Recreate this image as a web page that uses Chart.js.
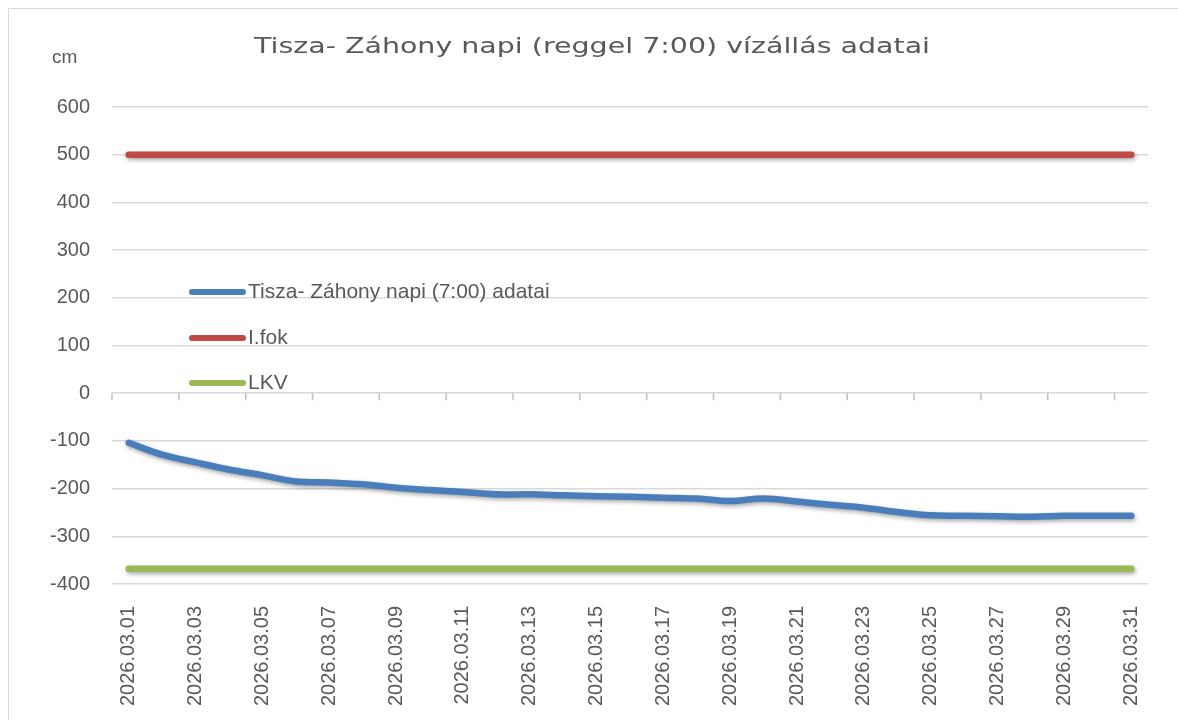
<!DOCTYPE html>
<html>
<head>
<meta charset="utf-8">
<title>Tisza- Záhony napi vízállás</title>
<script src="https://cdn.jsdelivr.net/npm/chart.js@4.4.1/dist/chart.umd.min.js"></script>
<style>
  html, body { margin: 0; padding: 0; background: #fff; }
  #wrap { position: relative; width: 1178px; height: 720px; }
</style>
</head>
<body>
<div id="wrap"><canvas id="chart"></canvas></div>
<script>
// chart data
const chartTitle = 'Tisza- Záhony napi (reggel 7:00) vízállás adatai';
const unitLabel = 'cm';

const dates = [
  '2026.03.01', '2026.03.02', '2026.03.03', '2026.03.04', '2026.03.05', '2026.03.06',
  '2026.03.07', '2026.03.08', '2026.03.09', '2026.03.10', '2026.03.11', '2026.03.12',
  '2026.03.13', '2026.03.14', '2026.03.15', '2026.03.16', '2026.03.17', '2026.03.18',
  '2026.03.19', '2026.03.20', '2026.03.21', '2026.03.22', '2026.03.23', '2026.03.24',
  '2026.03.25', '2026.03.26', '2026.03.27', '2026.03.28', '2026.03.29', '2026.03.30',
  '2026.03.31'
];

// napi vízállás (cm)
const vizallas = [
  -104, -129, -145, -160, -172, -185, -187, -191, -198, -203, -207,
  -212, -212, -214, -216, -217, -219, -221, -226, -221, -227,
  -234, -240, -249, -256, -257, -258, -259, -257, -257, -257
];

// I. fokú készültség
const iFok = [
  500, 500, 500, 500, 500, 500, 500, 500, 500, 500, 500,
  500, 500, 500, 500, 500, 500, 500, 500, 500, 500,
  500, 500, 500, 500, 500, 500, 500, 500, 500, 500
];

// legkisebb vízállás
const lkv = [
  -368, -368, -368, -368, -368, -368, -368, -368, -368, -368, -368,
  -368, -368, -368, -368, -368, -368, -368, -368, -368, -368,
  -368, -368, -368, -368, -368, -368, -368, -368, -368, -368
];

const yMin = -400;
const yMax = 600;
const yStep = 100;

const textColor = '#595959';
const gridColor = '#d9d9d9';

// white background + light frame on top/left
const framePlugin = {
  id: 'frame',
  beforeDraw(chart) {
    const ctx = chart.ctx;
    ctx.save();
    ctx.fillStyle = '#fff';
    ctx.fillRect(0, 0, chart.width, chart.height);
    ctx.strokeStyle = gridColor;
    ctx.lineWidth = 1;
    ctx.beginPath();
    ctx.moveTo(8.5, chart.height);
    ctx.lineTo(8.5, 8.5);
    ctx.lineTo(chart.width, 8.5);
    ctx.stroke();
    ctx.restore();
  }
};

// tick marks hanging under the 0 line (every 2nd category boundary) + shadow for lines
const lineStylePlugin = {
  id: 'lineStyle',
  beforeDatasetsDraw(chart) {
    const ctx = chart.ctx;
    const x = chart.scales.x;
    const y0 = chart.scales.y.getPixelForValue(0);
    ctx.save();
    ctx.strokeStyle = '#bfbfbf';
    ctx.lineWidth = 1.5;
    ctx.beginPath();
    for (let i = 0; i < dates.length; i += 2) {
      const px = i === 0 ? chart.chartArea.left : (x.getPixelForValue(i - 1) + x.getPixelForValue(i)) / 2;
      ctx.moveTo(px, y0);
      ctx.lineTo(px, y0 + 7);
    }
    ctx.stroke();
    ctx.restore();

    ctx.save();
    ctx.shadowColor = 'rgba(0, 0, 0, 0.35)';
    ctx.shadowBlur = 4;
    ctx.shadowOffsetX = 1;
    ctx.shadowOffsetY = 2;
  },
  afterDatasetsDraw(chart) {
    chart.ctx.restore();
  }
};

// title, unit label and the legend inside the plot
const textPlugin = {
  id: 'texts',
  afterDraw(chart) {
    const ctx = chart.ctx;
    ctx.save();

    // title (stretched wide like the original)
    ctx.font = '22px "DejaVu Sans"';
    ctx.fillStyle = textColor;
    ctx.textBaseline = 'alphabetic';
    ctx.textAlign = 'left';
    const w = ctx.measureText(chartTitle).width;
    const sx = 676 / w;
    ctx.save();
    ctx.translate(254, 53);
    ctx.scale(sx, 1);
    ctx.fillText(chartTitle, 0, 0);
    ctx.restore();

    // unit
    ctx.font = '19px "Liberation Sans"';
    ctx.fillText(unitLabel, 52, 63);

    // legend
    const legendY = [292, 338, 383];
    ctx.font = '21px "Liberation Sans"';
    ctx.textBaseline = 'middle';
    chart.data.datasets.forEach((ds, i) => {
      ctx.strokeStyle = ds.borderColor;
      ctx.lineWidth = 6;
      ctx.lineCap = 'round';
      ctx.beginPath();
      ctx.moveTo(192, legendY[i]);
      ctx.lineTo(243, legendY[i]);
      ctx.stroke();
      ctx.fillStyle = textColor;
      ctx.fillText(ds.label, 248, legendY[i]);
    });
    ctx.restore();
  }
};

const ctx = document.getElementById('chart').getContext('2d');
new Chart(ctx, {
  type: 'line',
  data: {
    labels: dates,
    datasets: [
      {
        label: 'Tisza- Záhony napi (7:00) adatai',
        data: vizallas,
        borderColor: '#4a7ebb',
        borderWidth: 6.5,
        tension: 0.4,
        pointRadius: 0,
        borderCapStyle: 'round',
        borderJoinStyle: 'round',
      },
      {
        label: 'I.fok',
        data: iFok,
        borderColor: '#be4b48',
        borderWidth: 6.5,
        pointRadius: 0,
        borderCapStyle: 'round',
      },
      {
        label: 'LKV',
        data: lkv,
        borderColor: '#98b954',
        borderWidth: 6.5,
        pointRadius: 0,
        borderCapStyle: 'round',
      },
    ],
  },
  options: {
    responsive: true,
    maintainAspectRatio: false,
    animation: false,
    layout: {
      padding: { top: 107, right: 30, left: 0, bottom: 0 },
    },
    plugins: {
      legend: { display: false },
      title: { display: false },
      tooltip: { enabled: false },
    },
    scales: {
      x: {
        type: 'category',
        offset: true,
        grid: { display: false },
        border: { display: false },
        ticks: {
          autoSkip: false,
          minRotation: 90,
          maxRotation: 90,
          padding: 14,
          color: textColor,
          font: { family: '"Liberation Sans"', size: 20 },
          callback: (val, i) => (i % 2 === 0 ? dates[i] : ''),
        },
        afterFit: (scale) => { scale.height = 136; },
      },
      y: {
        min: yMin,
        max: yMax,
        ticks: {
          stepSize: yStep,
          padding: 22,
          color: textColor,
          font: { family: '"Liberation Sans"', size: 20 },
        },
        grid: { color: gridColor, lineWidth: 1.5, drawTicks: false },
        border: { display: false },
        afterFit: (scale) => { scale.width = 112; },
      },
    },
  },
  plugins: [framePlugin, lineStylePlugin, textPlugin],
});
</script>
</body>
</html>
